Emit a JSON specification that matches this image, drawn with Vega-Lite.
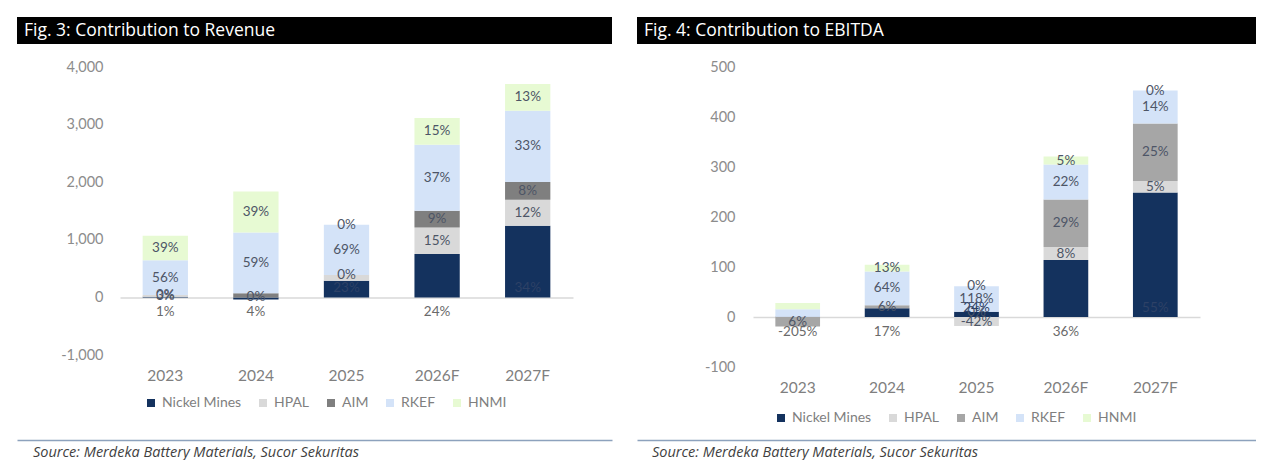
{
  "$schema": "https://vega.github.io/schema/vega-lite/v6.json",
  "background": "white",
  "padding": {"left": 17, "top": 17, "right": 0, "bottom": 0},
  "config": {"view": {"stroke": null}, "font": "Lato"},
  "datasets": {
    "revenue": [
      {"year": "2023", "series": "Nickel Mines", "value": 11, "label": "1%"},
      {"year": "2023", "series": "HPAL", "value": 32, "label": "3%"},
      {"year": "2023", "series": "AIM", "value": 0, "label": "0%"},
      {"year": "2023", "series": "RKEF", "value": 600, "label": "56%"},
      {"year": "2023", "series": "HNMI", "value": 428, "label": "39%"},
      {"year": "2024", "series": "Nickel Mines", "value": -35, "label": "4%"},
      {"year": "2024", "series": "HPAL", "value": 0, "label": "0%"},
      {"year": "2024", "series": "AIM", "value": 70, "label": null},
      {"year": "2024", "series": "RKEF", "value": 1058, "label": "59%"},
      {"year": "2024", "series": "HNMI", "value": 712, "label": "39%"},
      {"year": "2025", "series": "Nickel Mines", "value": 290, "label": "23%"},
      {"year": "2025", "series": "HPAL", "value": 100, "label": null},
      {"year": "2025", "series": "AIM", "value": 0, "label": "0%"},
      {"year": "2025", "series": "RKEF", "value": 872, "label": "69%"},
      {"year": "2025", "series": "HNMI", "value": 0, "label": "0%"},
      {"year": "2026F", "series": "Nickel Mines", "value": 753, "label": "24%"},
      {"year": "2026F", "series": "HPAL", "value": 462, "label": "15%"},
      {"year": "2026F", "series": "AIM", "value": 290, "label": "9%"},
      {"year": "2026F", "series": "RKEF", "value": 1146, "label": "37%"},
      {"year": "2026F", "series": "HNMI", "value": 464, "label": "15%"},
      {"year": "2027F", "series": "Nickel Mines", "value": 1245, "label": "34%"},
      {"year": "2027F", "series": "HPAL", "value": 451, "label": "12%"},
      {"year": "2027F", "series": "AIM", "value": 307, "label": "8%"},
      {"year": "2027F", "series": "RKEF", "value": 1238, "label": "33%"},
      {"year": "2027F", "series": "HNMI", "value": 464, "label": "13%"}
    ],
    "ebitda": [
      {"year": "2023", "series": "Nickel Mines", "value": 0.5, "label": "-205%"},
      {"year": "2023", "series": "HPAL", "value": 0, "label": null},
      {"year": "2023", "series": "AIM", "value": -19, "label": "6%"},
      {"year": "2023", "series": "RKEF", "value": 15, "label": null},
      {"year": "2023", "series": "HNMI", "value": 12.5, "label": null},
      {"year": "2024", "series": "Nickel Mines", "value": 17.4, "label": "17%"},
      {"year": "2024", "series": "HPAL", "value": 0, "label": null},
      {"year": "2024", "series": "AIM", "value": 6, "label": "6%"},
      {"year": "2024", "series": "RKEF", "value": 67.5, "label": "64%"},
      {"year": "2024", "series": "HNMI", "value": 13.5, "label": "13%"},
      {"year": "2025", "series": "Nickel Mines", "value": 10.6, "label": "24%"},
      {"year": "2025", "series": "HPAL", "value": -18, "label": "-42%"},
      {"year": "2025", "series": "AIM", "value": 0, "label": "0%"},
      {"year": "2025", "series": "RKEF", "value": 51, "label": "118%"},
      {"year": "2025", "series": "HNMI", "value": 0, "label": "0%"},
      {"year": "2026F", "series": "Nickel Mines", "value": 114, "label": "36%"},
      {"year": "2026F", "series": "HPAL", "value": 26, "label": "8%"},
      {"year": "2026F", "series": "AIM", "value": 95, "label": "29%"},
      {"year": "2026F", "series": "RKEF", "value": 70, "label": "22%"},
      {"year": "2026F", "series": "HNMI", "value": 16, "label": "5%"},
      {"year": "2027F", "series": "Nickel Mines", "value": 249, "label": "55%"},
      {"year": "2027F", "series": "HPAL", "value": 23, "label": "5%"},
      {"year": "2027F", "series": "AIM", "value": 115, "label": "25%"},
      {"year": "2027F", "series": "RKEF", "value": 66, "label": "14%"},
      {"year": "2027F", "series": "HNMI", "value": 0, "label": "0%"}
    ]
  },
  "hconcat": [
    {
      "vconcat": [
        {
          "width": 595, "height": 27,
          "view": {"fill": "#000000", "stroke": null},
          "data": {"values": [{"t": "Fig. 3: Contribution to Revenue"}]},
          "mark": {"type": "text", "align": "left", "baseline": "middle", "dx": 7, "color": "#ffffff", "fontSize": 17.5, "font": "Open Sans"},
          "encoding": {
            "x": {"datum": 0, "type": "quantitative", "scale": {"domain": [0, 1], "nice": false, "zero": false}, "axis": null},
            "text": {"field": "t"}
          }
        },
        {
          "width": 595, "height": 288,
          "data": {"name": "revenue"},
          "transform": [
            {"calculate": "indexof(['Nickel Mines','HPAL','AIM','RKEF','HNMI'], datum.series)", "as": "k"},
            {"stack": "value", "groupby": ["year"], "sort": [{"field": "k", "order": "ascending"}], "as": ["v0", "v1"], "offset": "zero"},
            {"calculate": "(datum.v0 + datum.v1) / 2", "as": "mid"}
          ],
          "encoding": {
            "x": {"field": "year", "type": "nominal", "scale": {"range": [103, 556], "paddingInner": 0.5, "paddingOuter": 0.25},
              "axis": {"title": null, "labelAngle": 0, "domain": true, "domainColor": "#d9d9d9", "domainWidth": 1.5, "offset": -57.6, "ticks": false, "labelPadding": 71, "labelColor": "#7f7f7f", "labelFontSize": 15.5, "labelFont": "Lato"}}
          },
          "layer": [
            {
              "mark": {"type": "bar"},
              "encoding": {
                "y": {"field": "v1", "type": "quantitative", "scale": {"domain": [-1000, 4000], "nice": false},
                  "axis": {"values": [-1000, 0, 1000, 2000, 3000, 4000], "format": ",d", "labelExpr": "replace(datum.label, '\u2212', '-')", "title": null, "domain": false, "ticks": false, "grid": false, "offset": -90, "labelPadding": 4, "labelColor": "#8c8c8c", "labelFontSize": 14.5, "labelFont": "Lato"}},
                "y2": {"field": "v0"},
                "color": {"field": "series", "type": "nominal",
                  "scale": {"domain": ["Nickel Mines", "HPAL", "AIM", "RKEF", "HNMI"], "range": ["#14325e", "#d9d9d9", "#7f7f7f", "#d4e3f8", "#e7fad3"]},
                  "legend": {"orient": "none", "legendX": 127, "legendY": 329, "title": null, "direction": "horizontal", "symbolType": "square", "symbolSize": 64, "symbolStrokeWidth": 0, "labelFontSize": 14, "labelColor": "#7f7f7f", "labelFont": "Lato", "columnPadding": 14}}
              }
            },
            {
              "transform": [{"filter": "datum.series != 'Nickel Mines' && datum.label != null"}],
              "mark": {"type": "text", "fontSize": 13.5, "color": "#4d5566"},
              "encoding": {"y": {"field": "mid", "type": "quantitative"}, "text": {"field": "label"}}
            },
            {
              "transform": [{"filter": "datum.series == 'Nickel Mines' && datum.label != null && datum.year != '2025' && datum.year != '2027F'"}],
              "mark": {"type": "text", "fontSize": 13.5, "color": "#6a6a6a", "dy": 15},
              "encoding": {"y": {"datum": 0, "type": "quantitative"}, "text": {"field": "label"}}
            },
            {
              "transform": [{"filter": "datum.series == 'Nickel Mines' && datum.label != null && (datum.year == '2025' || datum.year == '2027F')"}],
              "mark": {"type": "text", "fontSize": 13.5, "color": "#2d4166", "dy": -9},
              "encoding": {"y": {"datum": 0, "type": "quantitative"}, "text": {"field": "label"}}
            }
          ]
        },
        {
          "width": 595, "height": 62,
          "data": {"values": [{}]},
          "mark": {"type": "text"},
          "encoding": {
            "x": {"datum": 0, "type": "quantitative", "scale": {"domain": [0, 1], "nice": false, "zero": false},
              "axis": {"title": null, "labels": false, "ticks": false, "grid": false, "domain": true, "domainColor": "#8da2bd", "domainWidth": 1.5}},
            "text": {"value": ""}
          },
          "title": {"text": "Source: Merdeka Battery Materials, Sucor Sekuritas", "orient": "bottom", "anchor": "start", "frame": "group", "offset": 6, "dx": 16, "baseline": "top", "fontStyle": "italic", "fontWeight": "normal", "fontSize": 14.5, "color": "#3f3f3f", "font": "Open Sans"}
        }
      ],
      "spacing": 23, "bounds": "flush",
      "resolve": {"scale": {"color": "independent", "x": "independent", "y": "independent"}, "legend": {"color": "independent"}}
    },
    {
      "vconcat": [
        {
          "width": 619, "height": 27,
          "view": {"fill": "#000000", "stroke": null},
          "data": {"values": [{"t": "Fig. 4: Contribution to EBITDA"}]},
          "mark": {"type": "text", "align": "left", "baseline": "middle", "dx": 7, "color": "#ffffff", "fontSize": 17.5, "font": "Open Sans"},
          "encoding": {
            "x": {"datum": 0, "type": "quantitative", "scale": {"domain": [0, 1], "nice": false, "zero": false}, "axis": null},
            "text": {"field": "t"}
          }
        },
        {
          "width": 619, "height": 300,
          "data": {"name": "ebitda"},
          "transform": [
            {"calculate": "indexof(['Nickel Mines','HPAL','AIM','RKEF','HNMI'], datum.series)", "as": "k"},
            {"stack": "value", "groupby": ["year"], "sort": [{"field": "k", "order": "ascending"}], "as": ["v0", "v1"], "offset": "zero"},
            {"calculate": "(datum.v0 + datum.v1) / 2", "as": "mid"}
          ],
          "encoding": {
            "x": {"field": "year", "type": "nominal", "scale": {"range": [116, 563], "paddingInner": 0.5, "paddingOuter": 0.25},
              "axis": {"title": null, "labelAngle": 0, "domain": true, "domainColor": "#d9d9d9", "domainWidth": 1.5, "offset": -50, "ticks": false, "labelPadding": 63.5, "labelColor": "#7f7f7f", "labelFontSize": 15.5, "labelFont": "Lato"}}
          },
          "layer": [
            {
              "mark": {"type": "bar"},
              "encoding": {
                "y": {"field": "v1", "type": "quantitative", "scale": {"domain": [-100, 500], "nice": false},
                  "axis": {"values": [-100, 0, 100, 200, 300, 400, 500], "format": "d", "labelExpr": "replace(datum.label, '\u2212', '-')", "title": null, "domain": false, "ticks": false, "grid": false, "offset": -102, "labelPadding": 4, "labelColor": "#8c8c8c", "labelFontSize": 14.5, "labelFont": "Lato"}},
                "y2": {"field": "v0"},
                "color": {"field": "series", "type": "nominal",
                  "scale": {"domain": ["Nickel Mines", "HPAL", "AIM", "RKEF", "HNMI"], "range": ["#14325e", "#d9d9d9", "#a6a6a6", "#d4e3f8", "#e7fad3"]},
                  "legend": {"orient": "none", "legendX": 137, "legendY": 344, "title": null, "direction": "horizontal", "symbolType": "square", "symbolSize": 64, "symbolStrokeWidth": 0, "labelFontSize": 14, "labelColor": "#7f7f7f", "labelFont": "Lato", "columnPadding": 14}}
              }
            },
            {
              "transform": [{"filter": "datum.series != 'Nickel Mines' && datum.label != null"}],
              "mark": {"type": "text", "fontSize": 13.5, "color": "#4d5566"},
              "encoding": {"y": {"field": "mid", "type": "quantitative"}, "text": {"field": "label"}}
            },
            {
              "transform": [{"filter": "datum.series == 'Nickel Mines' && datum.label != null && datum.year != '2025' && datum.year != '2027F'"}],
              "mark": {"type": "text", "fontSize": 13.5, "color": "#6a6a6a", "dy": 15},
              "encoding": {"y": {"datum": 0, "type": "quantitative"}, "text": {"field": "label"}}
            },
            {
              "transform": [{"filter": "datum.series == 'Nickel Mines' && datum.label != null && (datum.year == '2025' || datum.year == '2027F')"}],
              "mark": {"type": "text", "fontSize": 13.5, "color": "#2d4166", "dy": -9},
              "encoding": {"y": {"datum": 0, "type": "quantitative"}, "text": {"field": "label"}}
            }
          ]
        },
        {
          "width": 619, "height": 50,
          "data": {"values": [{}]},
          "mark": {"type": "text"},
          "encoding": {
            "x": {"datum": 0, "type": "quantitative", "scale": {"domain": [0, 1], "nice": false, "zero": false},
              "axis": {"title": null, "labels": false, "ticks": false, "grid": false, "domain": true, "domainColor": "#8da2bd", "domainWidth": 1.5}},
            "text": {"value": ""}
          },
          "title": {"text": "Source: Merdeka Battery Materials, Sucor Sekuritas", "orient": "bottom", "anchor": "start", "frame": "group", "offset": 6, "dx": 15, "baseline": "top", "fontStyle": "italic", "fontWeight": "normal", "fontSize": 14.5, "color": "#3f3f3f", "font": "Open Sans"}
        }
      ],
      "spacing": 23, "bounds": "flush",
      "resolve": {"scale": {"color": "independent", "x": "independent", "y": "independent"}, "legend": {"color": "independent"}}
    }
  ],
  "spacing": 25, "bounds": "full",
  "resolve": {"scale": {"color": "independent"}, "legend": {"color": "independent"}}
}
